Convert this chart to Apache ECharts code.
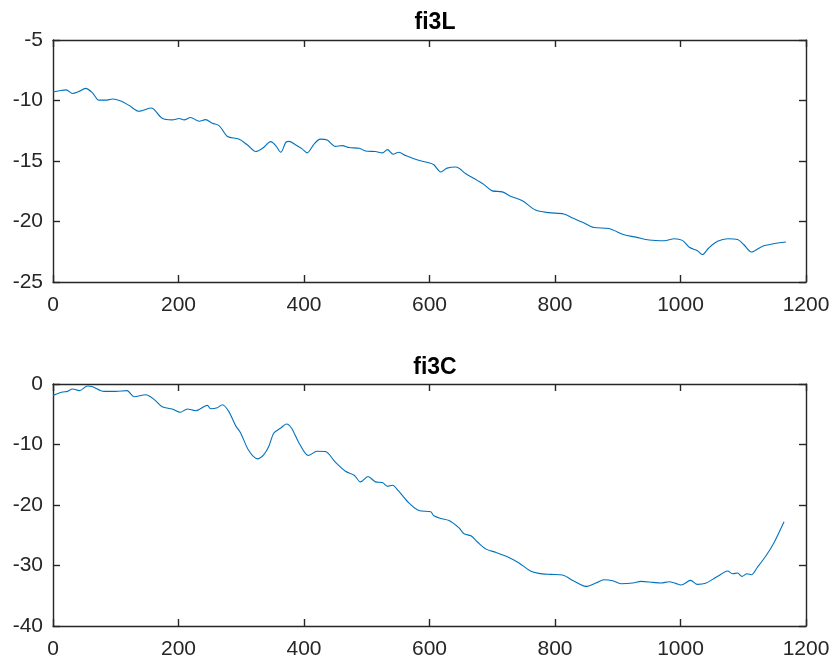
<!DOCTYPE html>
<html>
<head>
<meta charset="utf-8">
<title>fi3L / fi3C</title>
<script src="https://cdn.jsdelivr.net/npm/echarts@6/dist/echarts.min.js"></script>
<style>
  html, body { margin: 0; padding: 0; background: #fff; }
  #chart { width: 835px; height: 666px; }
</style>
</head>
<body>
<div id="chart"></div>
<script>
// fi3L trace (sample index, value)
const xL = [0, 10, 21, 31, 41, 52, 63, 73, 84, 95, 108, 121, 137, 145, 156, 161, 174, 190, 201, 209, 219, 233, 243, 254, 265, 278, 296, 310, 323, 334, 347, 355, 363, 371, 376, 387, 397, 405, 416, 426, 437, 450, 461, 472, 488, 498, 514, 525, 533, 542, 551, 562, 580, 599, 607, 618, 628, 642, 658, 676, 687, 700, 716, 729, 748, 769, 790, 814, 828, 844, 862, 886, 910, 929, 950, 974, 990, 1003, 1014, 1027, 1035, 1045, 1059, 1075, 1091, 1101, 1113, 1130, 1146, 1168];
const yL = [-9.3, -9.2, -9.12, -9.42, -9.26, -9.0, -9.37, -9.97, -9.97, -9.88, -10.05, -10.4, -10.89, -10.78, -10.62, -10.73, -11.47, -11.6, -11.49, -11.6, -11.41, -11.71, -11.58, -11.88, -12.09, -12.97, -13.19, -13.68, -14.22, -13.95, -13.4, -13.73, -14.28, -13.46, -13.38, -13.68, -14.0, -14.33, -13.6, -13.19, -13.27, -13.79, -13.73, -13.89, -13.95, -14.17, -14.22, -14.33, -14.06, -14.44, -14.28, -14.55, -14.9, -15.15, -15.31, -15.91, -15.59, -15.5, -16.05, -16.6, -16.95, -17.47, -17.55, -17.91, -18.29, -19.05, -19.27, -19.38, -19.71, -20.06, -20.5, -20.58, -21.1, -21.29, -21.53, -21.59, -21.42, -21.56, -22.13, -22.41, -22.73, -22.19, -21.64, -21.42, -21.48, -21.92, -22.52, -22.06, -21.86, -21.7];

// fi3C trace (sample index, value)
const xC = [0, 15, 23, 31, 42, 55, 63, 81, 100, 118, 129, 148, 161, 174, 190, 203, 214, 227, 246, 251, 262, 270, 280, 291, 299, 312, 326, 336, 344, 352, 363, 372, 380, 392, 407, 421, 434, 450, 466, 480, 490, 502, 514, 525, 533, 541, 551, 567, 583, 602, 607, 618, 631, 647, 655, 666, 676, 690, 706, 724, 742, 761, 774, 793, 812, 830, 849, 865, 878, 892, 905, 924, 937, 956, 969, 982, 992, 1001, 1016, 1027, 1040, 1051, 1064, 1075, 1083, 1091, 1098, 1106, 1113, 1122, 1136, 1149, 1165];
const yC = [-1.88, -1.33, -1.22, -0.83, -1.1, -0.34, -0.45, -1.22, -1.22, -1.1, -2.1, -1.77, -2.54, -3.75, -4.13, -4.68, -4.13, -4.41, -3.53, -4.08, -3.91, -3.42, -4.52, -6.88, -8.09, -11.0, -12.38, -11.67, -10.29, -8.09, -7.27, -6.61, -7.27, -9.74, -11.83, -11.12, -11.17, -12.93, -14.42, -15.08, -16.18, -15.3, -16.18, -16.29, -16.89, -16.73, -17.72, -19.64, -20.91, -21.13, -21.79, -22.23, -22.56, -23.77, -24.76, -25.09, -26.08, -27.29, -27.84, -28.55, -29.54, -30.92, -31.3, -31.47, -31.58, -32.57, -33.45, -32.9, -32.35, -32.52, -33.01, -32.9, -32.62, -32.79, -32.9, -32.68, -32.95, -33.23, -32.46, -33.12, -32.95, -32.29, -31.47, -30.92, -31.36, -31.25, -31.8, -31.36, -31.52, -30.37, -28.44, -26.24, -22.78];

const titles = ['fi3L', 'fi3C'];
const xTicks = { min: 0, max: 1200, interval: 200 };
const yTicksL = { min: -25, max: -5, interval: 5 };
const yTicksC = { min: -40, max: 0, interval: 10 };

const AXIS = '#262626';
const LINE = '#0072BD';
const FONT = 'Liberation Sans, Arial, Helvetica, sans-serif';

function pairs(xs, ys) { return xs.map((x, i) => [x, ys[i]]); }
const plain = v => String(v);

function xAxes(gridIndex) {
  const base = {
    type: 'value', gridIndex, min: xTicks.min, max: xTicks.max, interval: xTicks.interval,
    axisLine: { show: true, onZero: false, lineStyle: { color: AXIS, width: 1.4 } },
    axisTick: { show: true, inside: true, length: 7, lineStyle: { color: AXIS, width: 1.4 } },
    splitLine: { show: false }
  };
  return [
    Object.assign({}, base, {
      position: 'bottom',
      axisLabel: { show: true, color: AXIS, fontFamily: FONT, fontSize: 21, margin: 13, formatter: plain }
    }),
    Object.assign({}, base, { position: 'top', axisLabel: { show: false } })
  ];
}

function yAxes(gridIndex, t) {
  const base = {
    type: 'value', gridIndex, min: t.min, max: t.max, interval: t.interval,
    axisLine: { show: true, onZero: false, lineStyle: { color: AXIS, width: 1.4 } },
    axisTick: { show: true, inside: true, length: 7, lineStyle: { color: AXIS, width: 1.4 } },
    splitLine: { show: false }
  };
  return [
    Object.assign({}, base, {
      position: 'left',
      axisLabel: { show: true, color: AXIS, fontFamily: FONT, fontSize: 21, margin: 10,
                   padding: [8, 0, 0, 0], formatter: plain }
    }),
    Object.assign({}, base, { position: 'right', axisLabel: { show: false } })
  ];
}

const chart = echarts.init(document.getElementById('chart'), null, { renderer: 'canvas' });

chart.setOption({
  backgroundColor: '#ffffff',
  animation: false,
  title: [
    { text: titles[0], left: 430, top: 6, textAlign: 'center',
      textStyle: { fontFamily: FONT, fontSize: 23, fontWeight: 'bold', color: '#000' } },
    { text: titles[1], left: 430, top: 351, textAlign: 'center',
      textStyle: { fontFamily: FONT, fontSize: 23, fontWeight: 'bold', color: '#000' } }
  ],
  grid: [
    { left: 53, top: 40, width: 753, height: 242, containLabel: false },
    { left: 53, top: 384, width: 753, height: 242, containLabel: false }
  ],
  xAxis: [].concat(xAxes(0), xAxes(1)),
  yAxis: [].concat(yAxes(0, yTicksL), yAxes(1, yTicksC)),
  series: [
    { name: titles[0], type: 'line', xAxisIndex: 0, yAxisIndex: 0, data: pairs(xL, yL),
      showSymbol: false, smooth: 0.3, lineStyle: { color: LINE, width: 1.1 } },
    { name: titles[1], type: 'line', xAxisIndex: 2, yAxisIndex: 2, data: pairs(xC, yC),
      showSymbol: false, smooth: 0.3, lineStyle: { color: LINE, width: 1.1 } }
  ]
});
</script>
</body>
</html>
